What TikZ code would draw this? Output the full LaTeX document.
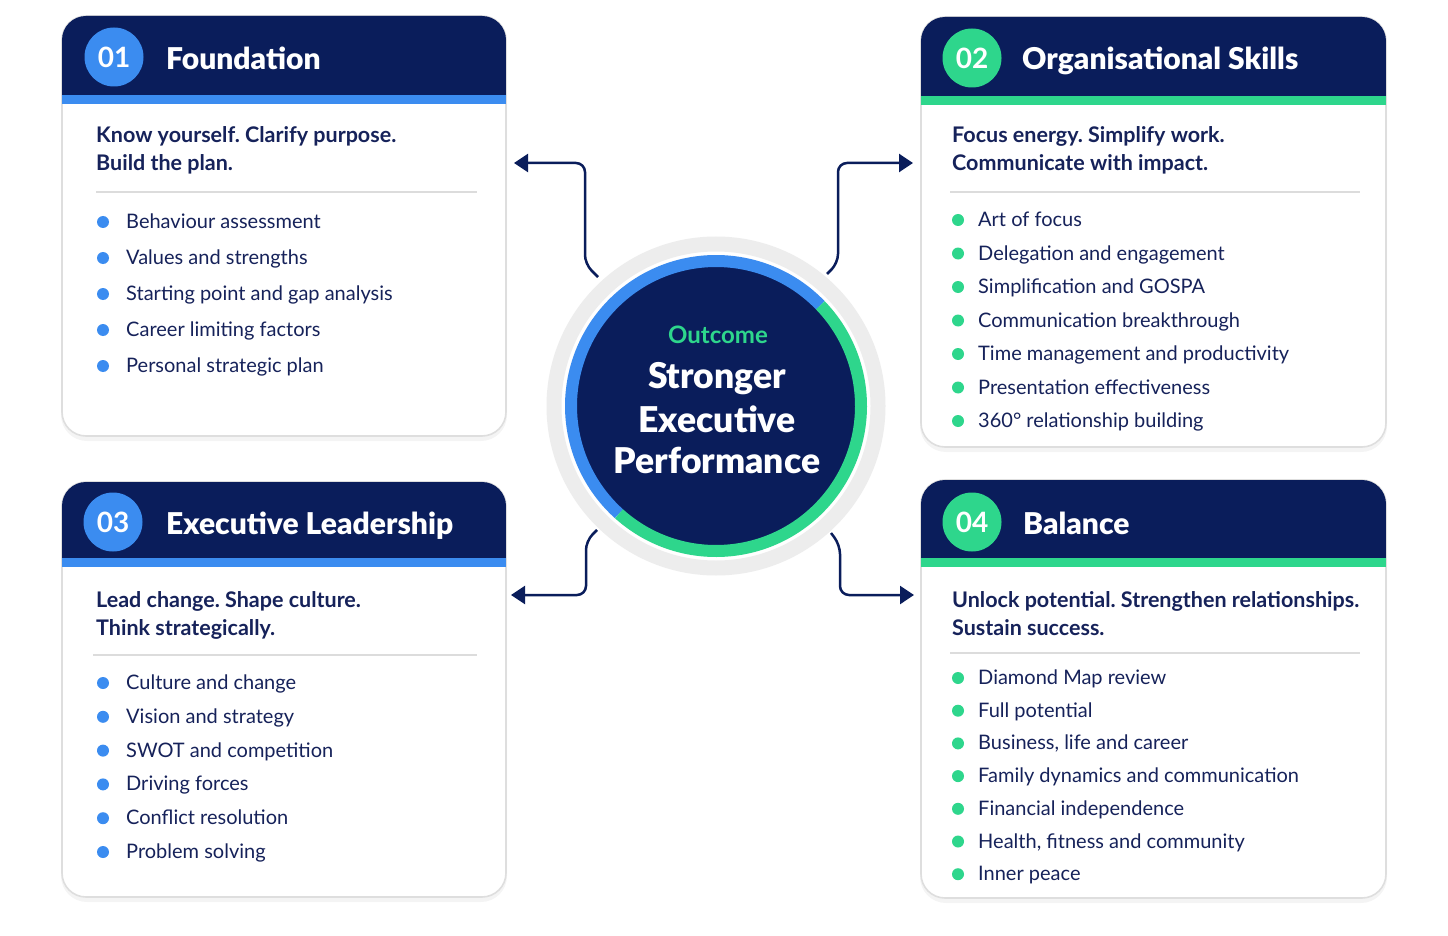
\documentclass[tikz,border=0pt]{standalone}
\usepackage{fontspec}
\setmainfont{Lato}
\newfontfamily\heavyfont{Lato Black}
\frenchspacing
\usetikzlibrary{arrows.meta,fit}
\definecolor{navy}{HTML}{0A1D5B}
\definecolor{ink}{HTML}{16225A}
\definecolor{accblue}{HTML}{3B8CF0}
\definecolor{accgreen}{HTML}{2ED68C}
\definecolor{cardline}{HTML}{DEDEDE}
\definecolor{ringgray}{HTML}{EDEDED}
\definecolor{divider}{HTML}{DCDCDC}
\newcommand{\fsz}[1]{\fontsize{#1}{#1}\selectfont}
\tikzset{
  item/.style={anchor=base west, inner sep=0pt, text=ink, font=\fsz{20}},
  subt/.style={anchor=base west, inner sep=0pt, text=ink, font=\bfseries\fsz{21.5}},
  ttl/.style={anchor=base west, inner sep=0pt, text=white, font=\heavyfont\fsz{30}},
  badge/.style={circle, minimum size=59pt, inner sep=0pt, text=white, font=\bfseries\fsz{28}},
  ctext/.style={anchor=base, inner sep=0pt, text=white, font=\heavyfont\fsz{35.5}},
  conn/.style={draw=navy, line width=2.5pt, rounded corners=9pt, -{Triangle[length=14pt,width=18pt]}},
  bdot/.style={circle, minimum size=12pt, inner sep=0pt},
  cardbox/.style={draw=cardline, line width=1.6pt, fill=white, rounded corners=24pt, inner sep=0pt},
  divline/.style={draw=divider, line width=1.5pt},
}
\newcommand{\drawcard}[7]{%
  \fill[black, opacity=0.045, rounded corners=26pt] (#2-1,#3+2) rectangle (#4+1,#5+5);
  \node[cardbox, fit={(#2,#3) (#4,#5)}] (#1) {};
  \begin{scope}
    \clip[rounded corners=24pt] (#2,#3) rectangle (#4,#5);
    \fill[navy] (#2,#3-2) rectangle (#4,#6);
    \fill[#7] (#2,#6) rectangle (#4,#6+9);
  \end{scope}
}
\begin{document}
\begin{tikzpicture}[x=1pt,y=-1pt]
\useasboundingbox[fill=white] (0,0) rectangle (1448,936);

% ---------- cards ----------
\drawcard{card1}{62}{16}{506}{436}{95}{accblue}
\drawcard{card2}{921}{17}{1386}{447}{96}{accgreen}
\drawcard{card3}{62}{482}{506}{897}{558}{accblue}
\drawcard{card4}{921}{480}{1386}{898}{558}{accgreen}

% ---------- card 1 ----------
\node[badge, fill=accblue] (b1) at (114,57) {01};
\node[ttl] (h1) at (166,70) {Foundation};
\node[subt] (s1a) at (96,143) {Know yourself. Clarify purpose.};
\node[subt] (s1b) at (96,171) {Build the plan.};
\draw[divline] (96,192) -- (477,192);
\foreach \t [count=\i from 0] in {Behaviour assessment, Values and strengths, Starting point and gap analysis, Career limiting factors, Personal strategic plan}{
  \node[bdot, fill=accblue] (d1-\i) at (103,222+36*\i) {};
  \node[item] (t1-\i) at (126,228.5+36*\i) {\t};
}

% ---------- card 2 ----------
\node[badge, fill=accgreen] (b2) at (972,58) {02};
\node[ttl] (h2) at (1022,70) {Organisational Skills};
\node[subt] (s2a) at (952,143) {Focus energy. Simplify work.};
\node[subt] (s2b) at (952,171) {Communicate with impact.};
\draw[divline] (950,192) -- (1360,192);
\foreach \t [count=\i from 0] in {Art of focus, Delegation and engagement, Simplification and GOSPA, Communication breakthrough, Time management and productivity, Presentation effectiveness, 360° relationship building}{
  \node[bdot, fill=accgreen] (d2-\i) at (958,220+33.5*\i) {};
  \node[item] (t2-\i) at (978,226.5+33.5*\i) {\t};
}

% ---------- card 3 ----------
\node[badge, fill=accblue] (b3) at (113,522) {03};
\node[ttl] (h3) at (166,534) {Executive Leadership};
\node[subt] (s3a) at (96,607) {Lead change. Shape culture.};
\node[subt] (s3b) at (96,635) {Think strategically.};
\draw[divline] (93,655) -- (477,655);
\foreach \t [count=\i from 0] in {Culture and change, Vision and strategy, SWOT and competition, Driving forces, Conflict resolution, Problem solving}{
  \node[bdot, fill=accblue] (d3-\i) at (103,683+33.8*\i) {};
  \node[item] (t3-\i) at (126,689.5+33.8*\i) {\t};
}

% ---------- card 4 ----------
\node[badge, fill=accgreen] (b4) at (972,522) {04};
\node[ttl] (h4) at (1023,534) {Balance};
\node[subt] (s4a) at (952,607) {Unlock potential. Strengthen relationships.};
\node[subt] (s4b) at (952,635) {Sustain success.};
\draw[divline] (950,653) -- (1360,653);
\foreach \t [count=\i from 0] in {Diamond Map review, Full potential, {Business, life and career}, Family dynamics and communication, Financial independence, {Health, fitness and community}, Inner peace}{
  \node[bdot, fill=accgreen] (d4-\i) at (958,678+32.7*\i) {};
  \node[item] (t4-\i) at (978,684.5+32.7*\i) {\t};
}

% ---------- centre ----------
\draw[ringgray, line width=15pt] (716,406) circle[radius=162];
\node[circle, fill=navy, minimum size=282pt, inner sep=0pt] (ctr) at (716,406) {};
\draw[accblue, line width=12pt] (ctr.center) ++(-44:145) arc[start angle=-44, end angle=-228, radius=145];
\draw[accgreen, line width=12pt] (ctr.center) ++(-228:145) arc[start angle=-228, end angle=-404, radius=145];
\node[anchor=base, inner sep=0pt, text=accgreen, font=\bfseries\fsz{24}] (oc) at (718,343) {Outcome};
\node[ctext] (l1) at (717,388) {Stronger};
\node[ctext] (l2) at (717,432) {Executive};
\node[ctext] (l3) at (717,473) {Performance};

% ---------- connectors ----------
\coordinate (c1s) at (598,277);
\coordinate (c1e) at (514,163);
\coordinate (c2s) at (827,274);
\coordinate (c2e) at (913,163);
\coordinate (c3s) at (597,530);
\coordinate (c3e) at (511,595);
\coordinate (c4s) at (831,533);
\coordinate (c4e) at (914,595);
\draw[conn] (c1s) -- (585,264) -- (585,163) -- (c1e);
\draw[conn] (c2s) -- (838,263) -- (838,163) -- (c2e);
\draw[conn] (c3s) -- (586,541) -- (586,595) -- (c3e);
\draw[conn] (c4s) -- (840,545) -- (840,595) -- (c4e);
\end{tikzpicture}
\end{document}
